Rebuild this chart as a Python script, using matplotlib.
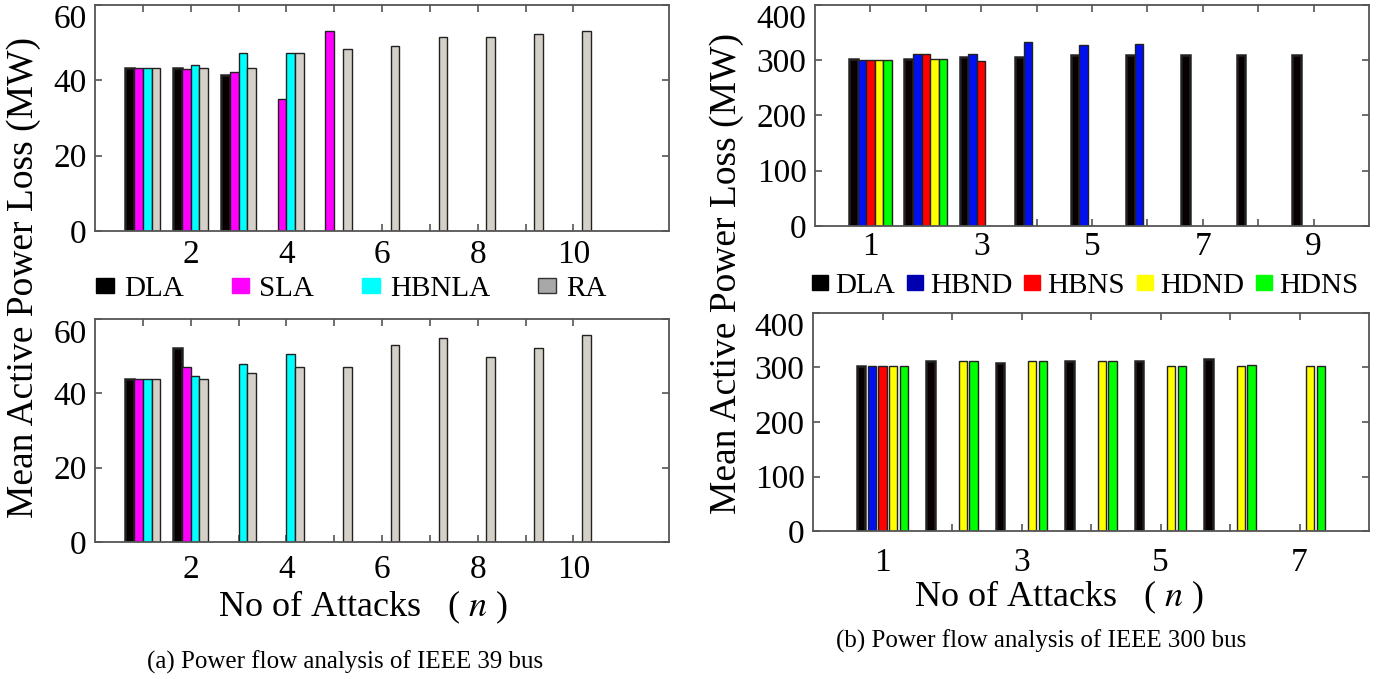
import numpy as np
import matplotlib
matplotlib.use("Agg")
import matplotlib.pyplot as plt
from matplotlib.patches import Patch

plt.rcParams['font.family'] = ['Liberation Serif', 'DejaVu Serif']
plt.rcParams['mathtext.fontset'] = 'stix'

# ---------------- data: IEEE 39 bus ----------------
x39 = [1, 2, 3, 4, 5, 6, 7, 8, 9, 10]
names39 = ["DLA", "SLA", "HBNLA", "RA"]
colors39 = ["#080000", "#ff00ff", "#00ffff", "#d4d0c8"]
legend39_colors = ["#000000", "#ff00ff", "#00ffff", "#a8a8a8"]

dla39_top = [43.2, 43.2, 41.4, None, None, None, None, None, None, None]
sla39_top = [43.2, 42.9, 42.3, 35.0, 53.2, None, None, None, None, None]
hbnla39_top = [43.2, 44.0, 47.3, 47.3, None, None, None, None, None, None]
ra39_top = [43.2, 43.2, 43.2, 47.3, 48.2, 49.1, 51.4, 51.4, 52.4, 53.2]

dla39_bot = [43.8, 52.2, None, None, None, None, None, None, None, None]
sla39_bot = [43.8, 47.0, None, None, None, None, None, None, None, None]
hbnla39_bot = [43.8, 44.6, 47.9, 50.6, None, None, None, None, None, None]
ra39_bot = [43.8, 43.8, 45.5, 47.0, 47.0, 53.1, 54.9, 49.8, 52.2, 55.8]

xticklabels39 = ["", "2", "", "4", "", "6", "", "8", "", "10"]

# ---------------- data: IEEE 300 bus ----------------
names300 = ["DLA", "HBND", "HBNS", "HDND", "HDNS"]
colors300 = ["#080000", "#0010f0", "#ff0000", "#ffff00", "#00ff00"]
legend300_colors = ["#000000", "#0000b0", "#ff0000", "#ffff00", "#00ff00"]

x300_top = [1, 2, 3, 4, 5, 6, 7, 8, 9]
dla300_top = [303, 303, 305, 306, 310, 309, 309, 309, 309]
hbnd300_top = [300, 312, 312, 333, 327, 330, None, None, None]
hbns300_top = [300, 312, 299, None, None, None, None, None, None]
hdnd300_top = [300, 302, None, None, None, None, None, None, None]
hdns300_top = [300, 302, None, None, None, None, None, None, None]
xticklabels300_top = ["1", "", "3", "", "5", "", "7", "", "9"]

x300_bot = [1, 2, 3, 4, 5, 6, 7]
dla300_bot = [302, 312, 309, 312, 312, 315, None]
hbnd300_bot = [302, None, None, None, None, None, None]
hbns300_bot = [302, None, None, None, None, None, None]
hdnd300_bot = [302, 312, 312, 312, 302, 302, 302]
hdns300_bot = [302, 312, 312, 312, 302, 305, 302]
xticklabels300_bot = ["1", "", "3", "", "5", "", "7"]

W, H = 1391, 679
fig = plt.figure(figsize=(W / 100, H / 100), dpi=100)


def axes_px(x0, y0, x1, y1):
    return fig.add_axes([x0 / W, 1 - y1 / H, (x1 - x0) / W, (y1 - y0) / H])


def grouped(ax, x, series, colors, fill=1.0, lw=1.0):
    n = len(series)
    gw = n / (n + 1.5)
    slot = gw / n
    for i, (vals, c) in enumerate(zip(series, colors)):
        off = (i - (n - 1) / 2) * slot
        xs = [xi + off for xi, v in zip(x, vals) if v is not None]
        hs = [v for v in vals if v is not None]
        ax.bar(xs, hs, width=slot * fill, color=c, edgecolor="#222222",
               linewidth=(lw + 0.8) if i == 0 else lw, zorder=2)


def style(ax, xlim, ylim, xticks, xlabels, yticks, pad_x):
    ax.set_xlim(*xlim)
    ax.set_ylim(*ylim)
    ax.set_xticks(xticks)
    ax.set_xticklabels(xlabels)
    ax.set_yticks(yticks)
    ax.tick_params(direction="in", top=True, right=True, length=5, width=1.2,
                   color="#555555", labelsize=24, labelcolor="black")
    ax.tick_params(axis="x", pad=pad_x)
    ax.tick_params(axis="y", pad=6)
    for s in ax.spines.values():
        s.set_color("#555555")
        s.set_linewidth(1.3)
    # top y label sits just below the upper edge, as in the reference
    ax.get_yticklabels()[-1].set_verticalalignment("top")


# IEEE 39 top
ax1 = axes_px(95, 5, 669, 231)
grouped(ax1, x39, [dla39_top, sla39_top, hbnla39_top, ra39_top], colors39)
style(ax1, (0, 12), (0, 60), x39, xticklabels39, [0, 20, 40, 60], 6)

# IEEE 39 bottom
ax2 = axes_px(95, 319, 669, 542)
grouped(ax2, x39, [dla39_bot, sla39_bot, hbnla39_bot, ra39_bot], colors39)
style(ax2, (0, 12), (0, 60), x39, xticklabels39, [0, 20, 40, 60], 9)

# IEEE 300 top
ax3 = axes_px(815, 5, 1369, 226)
grouped(ax3, x300_top, [dla300_top, hbnd300_top, hbns300_top, hdnd300_top, hdns300_top],
        colors300, fill=1.0)
style(ax3, (0, 10), (0, 400), x300_top, xticklabels300_top, [0, 100, 200, 300, 400], 4)

# IEEE 300 bottom
ax4 = axes_px(813, 313, 1369, 531)
grouped(ax4, x300_bot, [dla300_bot, hbnd300_bot, hbns300_bot, hdnd300_bot, hdns300_bot],
        colors300, fill=0.78)
style(ax4, (0, 8), (0, 400), x300_bot, xticklabels300_bot, [0, 100, 200, 300, 400], 12)

# legends
h39 = [Patch(facecolor=c, edgecolor="#333333" if n == "RA" else c, linewidth=1)
       for c, n in zip(legend39_colors, names39)]
fig.legend(h39, names39, ncol=4, loc="center left",
           bbox_to_anchor=(96 / W, 1 - 289 / H), frameon=False, fontsize=21,
           handlelength=0.6, handleheight=0.4, handletextpad=0.35,
           columnspacing=1.65, borderpad=0, borderaxespad=0)

h300 = [Patch(facecolor=c, edgecolor=c) for c in legend300_colors]
fig.legend(h300, names300, ncol=5, loc="center left",
           bbox_to_anchor=(812 / W, 1 - 286 / H), frameon=False, fontsize=21,
           handlelength=0.55, handleheight=0.4, handletextpad=0.25,
           columnspacing=0.4, borderpad=0, borderaxespad=0)

# axis titles
fig.text(24 / W, 1 - 277 / H, "Mean Active Power Loss (MW)", rotation=90,
         ha="center", va="center", fontsize=27)
fig.text(727 / W, 1 - 273 / H, "Mean Active Power Loss (MW)", rotation=90,
         ha="center", va="center", fontsize=27)
fig.text(363 / W, 1 - 607 / H, r"No of Attacks   ( $n$ )", ha="center",
         va="center", fontsize=26)
fig.text(1059 / W, 1 - 597 / H, r"No of Attacks   ( $n$ )", ha="center",
         va="center", fontsize=26)

# captions
fig.text(345 / W, 1 - 662 / H, "(a) Power flow analysis of IEEE 39 bus",
         ha="center", va="center", fontsize=18)
fig.text(1041 / W, 1 - 641 / H, "(b) Power flow analysis of IEEE 300 bus",
         ha="center", va="center", fontsize=18)

fig.savefig("out.png", dpi=100)
